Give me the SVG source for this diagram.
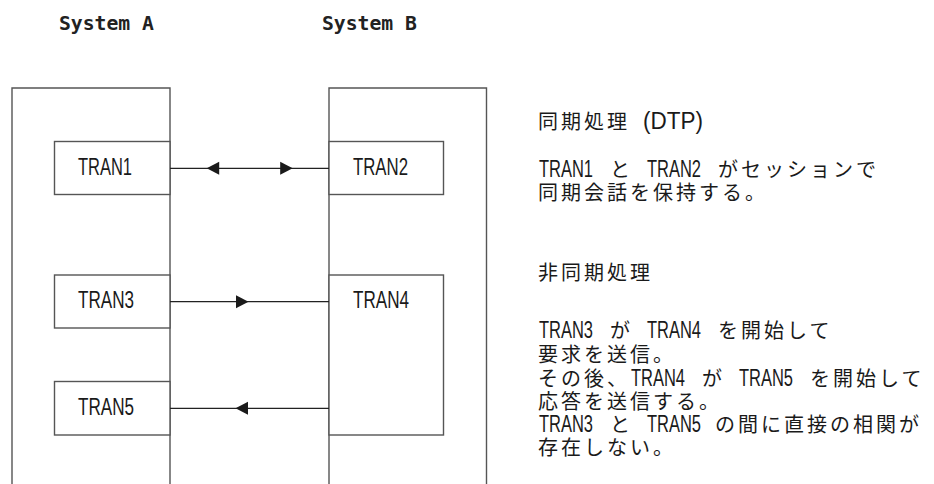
<svg xmlns="http://www.w3.org/2000/svg" xmlns:xlink="http://www.w3.org/1999/xlink" width="934" height="484" viewBox="0 0 934 484">
  <style>
    .frame { fill: none; stroke: #555; stroke-width: 1.4; }
    .box { fill: #fff; stroke: #555; stroke-width: 1.4; }
    .conn { fill: none; stroke: #222; stroke-width: 1.3; }
    .head { fill: #1a1a1a; }
    .sys { font-family: "DejaVu Sans Mono", monospace; font-weight: bold; font-size: 19.5px; fill: #222; }
    .lbl { font-family: "Liberation Sans", Arial, sans-serif; font-size: 23.5px; fill: #1a1a1a; }
    .l { font-family: "Liberation Sans", Arial, sans-serif; font-size: 23.5px; fill: #1a1a1a; }
    .j { font-family: "Noto Sans CJK JP", sans-serif; font-size: 20px; letter-spacing: 3px; fill: #1a1a1a; }
  </style>
  <defs>
    <path id="ah" d="M0,0 L-12.5,-6.5 L-12.5,6.5 Z"/>
  </defs>

  <g id="systemA">
    <path class="frame" d="M12,484 V88 H170 V484"/>
    <text class="sys" x="59" y="30" textLength="95" lengthAdjust="spacingAndGlyphs">System A</text>
  </g>
  <g id="systemB">
    <path class="frame" d="M329,484 V88 H486.5 V484"/>
    <text class="sys" x="322" y="30" textLength="95" lengthAdjust="spacingAndGlyphs">System B</text>
  </g>

  <g id="tran1">
    <rect class="box" x="54.5" y="141.5" width="115.5" height="53"/>
    <text class="lbl" x="78" y="175" textLength="54" lengthAdjust="spacingAndGlyphs">TRAN1</text>
  </g>
  <g id="tran2">
    <rect class="box" x="329" y="141.5" width="114.5" height="53"/>
    <text class="lbl" x="353" y="175" textLength="55" lengthAdjust="spacingAndGlyphs">TRAN2</text>
  </g>
  <g id="tran3">
    <rect class="box" x="54.5" y="275" width="115.5" height="53"/>
    <text class="lbl" x="78" y="308" textLength="56" lengthAdjust="spacingAndGlyphs">TRAN3</text>
  </g>
  <g id="tran4">
    <rect class="box" x="329" y="275" width="114.5" height="160"/>
    <text class="lbl" x="353" y="308" textLength="56" lengthAdjust="spacingAndGlyphs">TRAN4</text>
  </g>
  <g id="tran5">
    <rect class="box" x="54.5" y="381.5" width="115.5" height="53.5"/>
    <text class="lbl" x="78" y="415" textLength="56" lengthAdjust="spacingAndGlyphs">TRAN5</text>
  </g>

  <g id="connectors">
    <line class="conn" x1="170" y1="168.3" x2="329" y2="168.3"/>
    <use xlink:href="#ah" class="head" transform="translate(206.7,168.3) rotate(180)"/>
    <use xlink:href="#ah" class="head" transform="translate(292.7,168.3)"/>
    <line class="conn" x1="170" y1="301.7" x2="329" y2="301.7"/>
    <use xlink:href="#ah" class="head" transform="translate(248.5,301.7)"/>
    <line class="conn" x1="170" y1="408.3" x2="329" y2="408.3"/>
    <use xlink:href="#ah" class="head" transform="translate(235.5,408.3) rotate(180)"/>
  </g>

  <g id="notes">
    <text y="129"><tspan class="j" x="538">同期処理</tspan> <tspan class="l" x="643" textLength="60" lengthAdjust="spacingAndGlyphs">(DTP)</tspan></text>
    <text y="177"><tspan class="l" x="539" textLength="54" lengthAdjust="spacingAndGlyphs">TRAN1</tspan> <tspan class="j" x="610">と</tspan> <tspan class="l" x="647" textLength="54" lengthAdjust="spacingAndGlyphs">TRAN2</tspan> <tspan class="j" x="718">がセッションで</tspan></text>
    <text y="200"><tspan class="j" x="538">同期会話を保持する。</tspan></text>
    <text y="280"><tspan class="j" x="538">非同期処理</tspan></text>
    <text y="338"><tspan class="l" x="539" textLength="54" lengthAdjust="spacingAndGlyphs">TRAN3</tspan> <tspan class="j" x="610">が</tspan> <tspan class="l" x="647" textLength="54" lengthAdjust="spacingAndGlyphs">TRAN4</tspan> <tspan class="j" x="718">を開始して</tspan></text>
    <text y="362"><tspan class="j" x="538">要求を送信。</tspan></text>
    <text y="386"><tspan class="j" x="538">その後、</tspan><tspan class="l" x="631" textLength="54" lengthAdjust="spacingAndGlyphs">TRAN4</tspan> <tspan class="j" x="702">が</tspan> <tspan class="l" x="739" textLength="54" lengthAdjust="spacingAndGlyphs">TRAN5</tspan> <tspan class="j" x="810">を開始して</tspan></text>
    <text y="409"><tspan class="j" x="538">応答を送信する。</tspan></text>
    <text y="432"><tspan class="l" x="539" textLength="54" lengthAdjust="spacingAndGlyphs">TRAN3</tspan> <tspan class="j" x="610">と</tspan> <tspan class="l" x="647" textLength="54" lengthAdjust="spacingAndGlyphs">TRAN5</tspan> <tspan class="j" x="715">の間に直接の相関が</tspan></text>
    <text y="455"><tspan class="j" x="538">存在しない。</tspan></text>
  </g>
</svg>
